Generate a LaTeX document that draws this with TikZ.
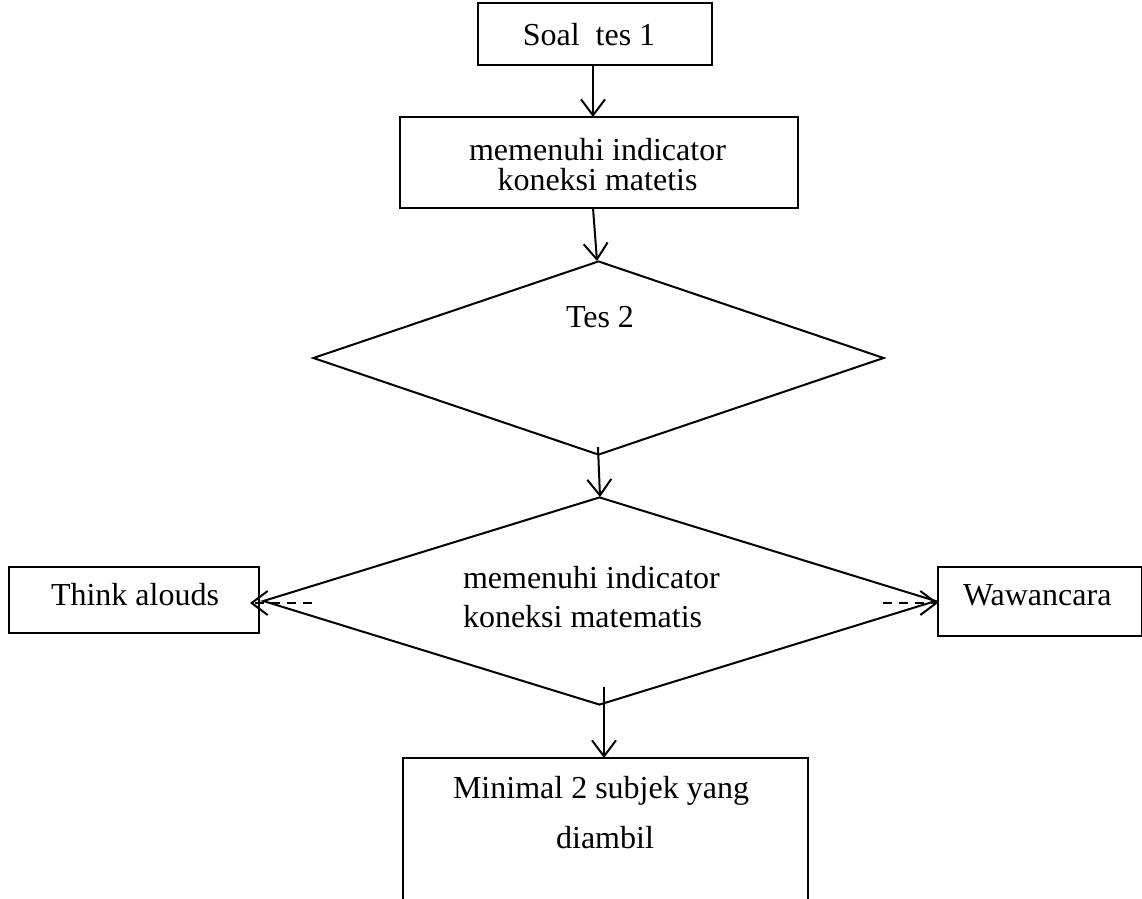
\documentclass[tikz,border=0pt]{standalone}
\usepackage{fontspec}
\setmainfont{Liberation Serif}
\usetikzlibrary{arrows.meta,shapes.geometric}
\begin{document}
\begin{tikzpicture}[x=1pt,y=-1pt, line width=2pt,
  box/.style={draw, rectangle, inner sep=0pt},
  dia/.style={draw, diamond, inner sep=0pt},
  txt/.style={inner sep=0pt, anchor=base, font=\fontsize{32}{36}\selectfont},
  arr/.style={-{Straight Barb[length=16pt,width=24pt]}},
  darr/.style={arr, dash pattern=on 9pt off 7pt}]
\useasboundingbox (0,0) rectangle (1142,898);
\clip (0,0) rectangle (1142,898);
% boxes
\node[box, minimum width=234pt, minimum height=62pt] (b1) at (595,34) {};
\node[box, minimum width=398pt, minimum height=91pt] (b2) at (599,162.5) {};
\node[dia, minimum width=571pt, minimum height=194pt] (d1) at (598.5,358) {};
\node[dia, minimum width=673pt, minimum height=208pt] (d2) at (599.5,601) {};
\node[box, minimum width=250pt, minimum height=66pt] (bl) at (134,600) {};
\node[box, minimum width=204pt, minimum height=69pt] (br) at (1040,601.5) {};
\node[box, minimum width=405pt, minimum height=200pt] (b3) at (605.5,858) {};
% texts
\node[txt] (t1) at (589,45) {Soal\ \ tes 1};
\node[txt] (t2a) at (597.5,160) {memenuhi indicator};
\node[txt] (t2b) at (597.5,190) {koneksi matetis};
\node[txt] (t3) at (600,327) {Tes 2};
\node[txt, anchor=base west] (t4a) at (462,588) {memenuhi indicator};
\node[txt, anchor=base west] (t4b) at (462,627) {koneksi matematis};
\node[txt] (t5) at (135,605) {Think alouds};
\node[txt, anchor=base west] (t6) at (962,605) {Wawancara};
\node[txt] (t7a) at (601,798) {Minimal 2 subjek yang};
\node[txt] (t7b) at (605,848) {diambil};
% connector end points
\coordinate (a1s) at (593,65);
\coordinate (a1e) at (593,117);
\coordinate (a2s) at (593,208);
\coordinate (a2e) at (597,261);
\coordinate (a3s) at (598,447);
\coordinate (a3e) at (600,497);
\coordinate (a4s) at (604,687);
\coordinate (a4e) at (604,758);
\coordinate (l1) at (312,603);
\coordinate (l2) at (250,603);
\coordinate (r1) at (883,603);
\coordinate (r2) at (938,603);
% connectors
\draw[arr] (a1s) -- (a1e);
\draw[arr] (a2s) -- (a2e);
\draw[arr] (a3s) -- (a3e);
\draw[arr] (a4s) -- (a4e);
\draw[darr] (l1) -- (l2);
\draw[darr] (r1) -- (r2);
\end{tikzpicture}
\end{document}
